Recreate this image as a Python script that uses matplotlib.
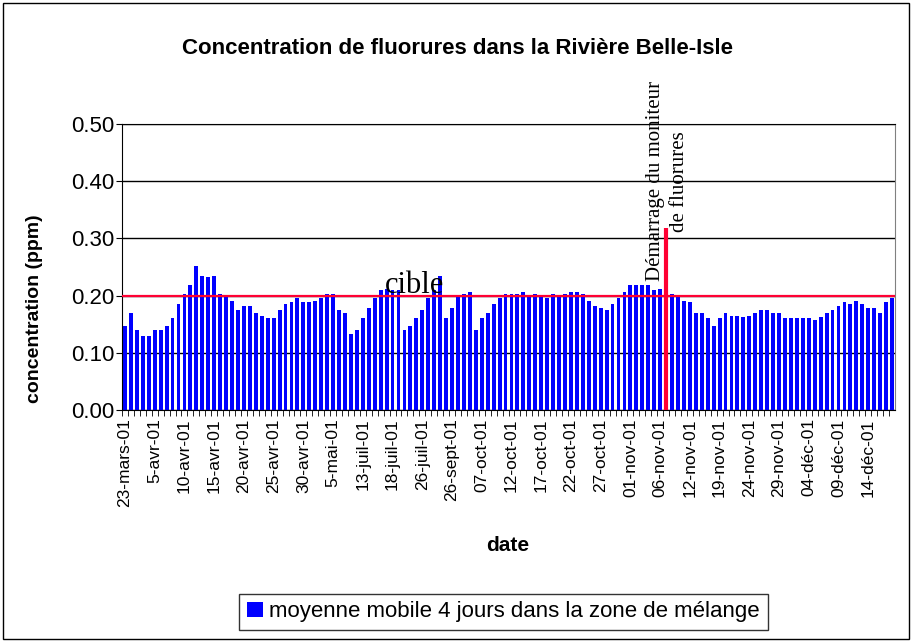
import matplotlib
matplotlib.use("Agg")
import matplotlib.pyplot as plt
from matplotlib.patches import Rectangle
import numpy as np

plt.rcParams['font.family'] = ['Liberation Sans', 'DejaVu Sans']

# moyenne mobile 4 jours (ppm), une barre par jour de mesure
valeurs = [
    0.147, 0.170, 0.140, 0.130, 0.130, 0.140, 0.140, 0.147, 0.160, 0.186,
    0.203, 0.218, 0.251, 0.235, 0.233, 0.235, 0.202, 0.198, 0.191, 0.175,
    0.181, 0.181, 0.170, 0.165, 0.160, 0.160, 0.175, 0.186, 0.189, 0.195,
    0.189, 0.189, 0.191, 0.195, 0.202, 0.203, 0.175, 0.170, 0.133, 0.140,
    0.160, 0.179, 0.195, 0.209, 0.212, 0.210, 0.210, 0.140, 0.147, 0.160,
    0.174, 0.195, 0.209, 0.235, 0.160, 0.179, 0.198, 0.202, 0.207, 0.140,
    0.160, 0.170, 0.186, 0.195, 0.202, 0.202, 0.203, 0.207, 0.198, 0.203,
    0.198, 0.195, 0.202, 0.198, 0.203, 0.207, 0.207, 0.202, 0.191, 0.181,
    0.179, 0.175, 0.186, 0.195, 0.207, 0.218, 0.219, 0.219, 0.219, 0.209,
    0.212, 0.210, 0.202, 0.198, 0.191, 0.189, 0.170, 0.170, 0.160, 0.147,
    0.160, 0.170, 0.165, 0.165, 0.163, 0.165, 0.170, 0.175, 0.175, 0.170,
    0.170, 0.160, 0.160, 0.160, 0.160, 0.160, 0.158, 0.163, 0.170, 0.175,
    0.181, 0.189, 0.186, 0.191, 0.186, 0.179, 0.179, 0.170, 0.189, 0.196,
]
# une étiquette toutes les 5 barres
etiquettes = ['23-mars-01', '5-avr-01', '10-avr-01', '15-avr-01', '20-avr-01',
              '25-avr-01', '30-avr-01', '5-mai-01', '13-juil-01', '18-juil-01',
              '26-juil-01', '26-sept-01', '07-oct-01', '12-oct-01', '17-oct-01',
              '22-oct-01', '27-oct-01', '01-nov-01', '06-nov-01', '12-nov-01',
              '19-nov-01', '24-nov-01', '29-nov-01', '04-déc-01', '09-déc-01',
              '14-déc-01']
cible = 0.20
idx_moniteur = 91
haut_moniteur = 0.318

x = np.arange(len(valeurs))

fig = plt.figure(figsize=(9.14, 6.42), dpi=100)
ax = fig.add_axes([0.1335, 0.3614, 0.8457, 0.4455])

ax.bar(x, valeurs, width=0.65, color='#0000FF', zorder=2,
       label='moyenne mobile 4 jours dans la zone de mélange')
ax.axhline(cible, color='#FF0033', lw=1.6, zorder=3)
ax.vlines(idx_moniteur, 0, haut_moniteur, color='#FF0033', lw=3, zorder=3)

ax.text(48.7, 0.204, 'cible', family='Liberation Serif', fontsize=22,
        ha='center', va='baseline', zorder=4)
ax.text(idx_moniteur + 0.25, 0.40, 'Démarrage du moniteur\nde fluorures',
        family='Liberation Serif', fontsize=15, rotation=90,
        ha='center', va='center', multialignment='center',
        linespacing=1.3, clip_on=False, zorder=4)

ax.set_xlim(-0.5, len(valeurs) - 0.5)
ax.set_ylim(0, 0.5)
ax.set_yticks(np.arange(0, 0.51, 0.1))
ax.set_yticklabels([f'{v:.2f}' for v in np.arange(0, 0.51, 0.1)], fontsize=16)
ax.yaxis.grid(True, color='black', lw=1)
ax.set_axisbelow(True)

ax.set_xticks(x[::5])
ax.set_xticklabels(etiquettes, rotation=90, fontsize=12.5)
ax.set_xticks(np.arange(len(valeurs)) - 0.5, minor=True)
ax.tick_params(axis='x', which='major', length=0, pad=6)
ax.tick_params(axis='x', which='minor', length=4, direction='out')
ax.tick_params(axis='y', length=4, pad=1.5)

ax.spines['right'].set_color('#808080')
ax.spines['top'].set_color('black')

fig.text(0.501, 0.925, 'Concentration de fluorures dans la Rivière Belle-Isle',
         fontsize=16, fontweight='bold', ha='center', va='center')
fig.text(0.038, 0.519, 'concentration (ppm)', fontsize=14, fontweight='bold',
         rotation=90, ha='center', va='center')
fig.text(0.556, 0.150, 'date', fontsize=15, fontweight='bold',
         ha='center', va='center')

leg = fig.legend(loc='center', bbox_to_anchor=(0.551, 0.047), fontsize=16,
                 frameon=True, fancybox=False, handlelength=0.7,
                 handleheight=0.7, handletextpad=0.3, borderpad=0.35)
leg.get_frame().set_edgecolor('black')
leg.get_frame().set_linewidth(1)

fig.patches.append(Rectangle((0.003, 0.004), 0.992, 0.992, transform=fig.transFigure,
                             fill=False, edgecolor='black', lw=1))

fig.savefig('out.png', dpi=100)
